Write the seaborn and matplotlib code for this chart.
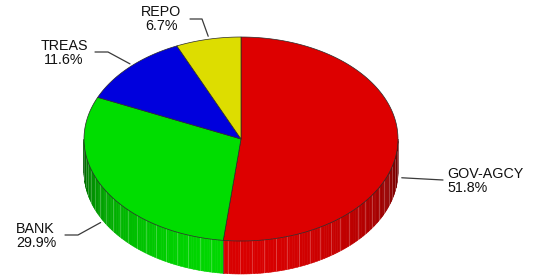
import numpy as np
import matplotlib
matplotlib.use("Agg")
import matplotlib.pyplot as plt
from matplotlib.patches import Polygon
from matplotlib.colors import to_rgb
import seaborn as sns

# Portfolio split (percent), drawn clockwise from 12 o'clock
labels = ["GOV-AGCY", "BANK", "TREAS", "REPO"]
shares = [51.8, 29.9, 11.6, 6.7]
colors = ["#dd0000", "#00dd00", "#0000dd", "#dddd00"]

# label layout (pixel space): text anchor, elbow of the leader line
text_pos = [(447, 181), (16, 236), (64, 53), (161, 19)]
text_ha = ["left", "left", "center", "center"]
elbow_pos = [(443, 180), (78, 235), (108, 52), (202, 19)]
leader_start = [None, (65, 235), (95, 52), (190, 19)]

sns.set_theme(style="white")
plt.rcParams["font.family"] = ["Liberation Sans", "DejaVu Sans"]

# ellipse geometry of the 3d pie
cx, cy, rx, ry, depth = 241, 139, 157, 102, 33


def pt(theta, drop=0.0):
    t = np.radians(theta)
    return cx + rx * np.cos(t), cy - ry * np.sin(t) + drop


def shade(rgb, theta):
    s = max(0.0, -np.sin(np.radians(theta)))
    f = 0.38 + 0.6 * s ** 0.7
    return tuple(c * f for c in rgb)


fig = plt.figure(figsize=(5.36, 2.77), dpi=100)
ax = fig.add_axes([0, 0, 1, 1])
ax.set_xlim(0, 536)
ax.set_ylim(277, 0)
ax.axis("off")

total = sum(shares)
cum = np.concatenate([[0], np.cumsum(shares)]) / total * 360
starts = 90 - cum[:-1]
ends = 90 - cum[1:]

# side walls (front half only)
for i, col in enumerate(colors):
    rgb = to_rgb(col)
    a0, a1 = starts[i], ends[i]
    ts = list(np.arange(a0, a1, -1.0)) + [a1]
    for b in (0, -180, -360):
        if a1 < b < a0:
            ts.append(b)
    ts = sorted(set(ts), reverse=True)
    for k in range(len(ts) - 1):
        t0, t1 = ts[k], ts[k + 1]
        tm = (t0 + t1) / 2
        if np.sin(np.radians(tm)) >= 0:
            continue
        p0, p1 = pt(t0), pt(t1)
        q1, q0 = pt(t1, depth), pt(t0, depth)
        c = shade(rgb, tm)
        ax.add_patch(Polygon([p0, p1, q1, q0], closed=True, facecolor=c,
                             edgecolor=c, lw=0.4, zorder=1))
    # light stripes on the wall
    for t in np.arange(a0, a1, -4.4):
        if np.sin(np.radians(t)) < -0.02:
            x, y = pt(t)
            ax.plot([x, x], [y, y + depth], color="white", lw=0.5, alpha=0.32, zorder=2)
    # edge at slice boundary on the wall
    if np.sin(np.radians(a1)) < 0:
        x, y = pt(a1)
        ax.plot([x, x], [y, y + depth], color="#3a0000", lw=0.6, zorder=2)

# top face
for i, col in enumerate(colors):
    ts = np.linspace(starts[i], ends[i], 120)
    pts = [(cx, cy)] + [pt(t) for t in ts]
    ax.add_patch(Polygon(pts, closed=True, facecolor=col, edgecolor="#2a2a2a",
                         lw=0.5, zorder=3))

# labels with leader lines
for i, lab in enumerate(labels):
    mid = (starts[i] + ends[i]) / 2
    front = np.sin(np.radians(mid)) < 0
    ax_x, ax_y = pt(mid, depth if front else 0)
    if front:
        ax_x += 4 * np.sign(np.cos(np.radians(mid)))
    else:
        ax_y -= 3
    ex, ey = elbow_pos[i]
    xs, ys = [ax_x, ex], [ax_y, ey]
    if leader_start[i] is not None:
        xs.append(leader_start[i][0])
        ys.append(leader_start[i][1])
    ax.plot(xs, ys, color="#3a3a3a", lw=0.9, zorder=4)
    tx, ty = text_pos[i]
    ax.text(tx, ty, f"{lab}\n{shares[i]:.1f}%", ha=text_ha[i], va="center",
            multialignment=text_ha[i], fontsize=10.3, color="#111111",
            linespacing=1.05, zorder=5)

fig.savefig("out.png", dpi=100, facecolor="white")
